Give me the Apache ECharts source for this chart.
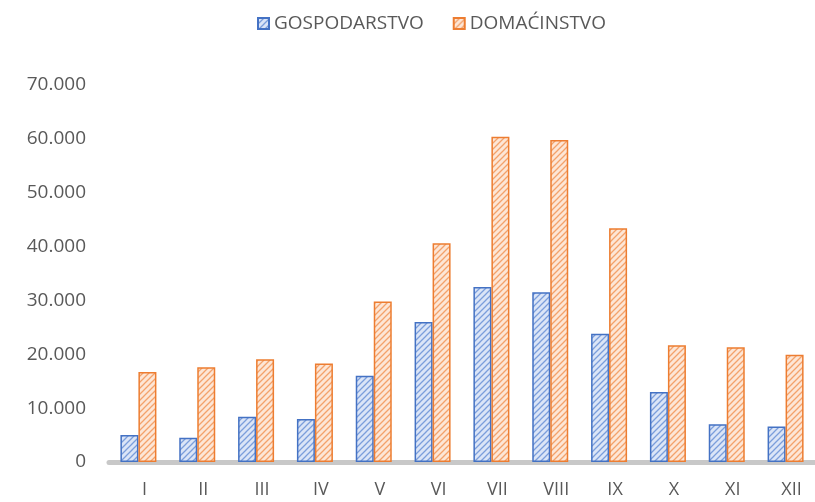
<!DOCTYPE html>
<html>
<head>
<meta charset="utf-8">
<script src="https://cdn.jsdelivr.net/npm/echarts@6/dist/echarts.min.js"></script>
<style>
  html, body { margin: 0; padding: 0; background: #fff; }
  #graph { width: 815px; height: 502px; }
</style>
</head>
<body>
<div id="graph"></div>
<script>
const months = ['I', 'II', 'III', 'IV', 'V', 'VI', 'VII', 'VIII', 'IX', 'X', 'XI', 'XII'];
const gospodarstvo = [5000, 4500, 8400, 8000, 16000, 26000, 32500, 31500, 23800, 13000, 7000, 6600];
const domacinstvo = [16700, 17600, 19100, 18300, 29800, 40600, 60400, 59800, 43400, 21700, 21300, 19900];
const yTicks = [0, 10000, 20000, 30000, 40000, 50000, 60000, 70000];

// hatched fill like the excel pattern
function hatch(bg, fg) {
  const c = document.createElement('canvas');
  c.width = 6; c.height = 6;
  const ctx = c.getContext('2d');
  ctx.fillStyle = bg;
  ctx.fillRect(0, 0, 6, 6);
  ctx.strokeStyle = fg;
  ctx.lineWidth = 1.3;
  ctx.beginPath();
  ctx.moveTo(-1, 7); ctx.lineTo(7, -1);
  ctx.moveTo(-4, 4); ctx.lineTo(4, -4);
  ctx.moveTo(2, 10); ctx.lineTo(10, 2);
  ctx.stroke();
  return { image: c, repeat: 'repeat' };
}

const myChart = echarts.init(document.getElementById('graph'));

const font = 'Open Sans';
const fmt = v => v === 0 ? '0' : (v / 1000).toFixed(0) + '.000';

let option = {
  animation: false,
  textStyle: { fontFamily: font },
  legend: {
    left: 252,
    top: 9,
    itemWidth: 11,
    itemHeight: 11,
    itemGap: 29,
    icon: 'rect',
    textStyle: { color: '#595959', fontSize: 19, fontFamily: font }
  },
  grid: { left: 109, right: -12, top: 85, bottom: 40 },
  xAxis: {
    type: 'category',
    data: months,
    axisLine: { lineStyle: { color: '#c8c8c8', width: 5 } },
    axisTick: { show: false },
    axisLabel: { color: '#595959', fontSize: 18, fontFamily: font, margin: 19, padding: [0, 0, 0, 12] }
  },
  yAxis: {
    type: 'value',
    min: 0,
    max: yTicks[yTicks.length - 1],
    interval: 10000,
    splitLine: { show: false },
    axisLine: { show: false },
    axisTick: { show: false },
    axisLabel: { color: '#595959', fontSize: 19, fontFamily: font, margin: 23, formatter: fmt }
  },
  series: [
    {
      name: 'GOSPODARSTVO',
      type: 'bar',
      data: gospodarstvo,
      barWidth: 18,
      barGap: '0%',
      itemStyle: {
        color: hatch('#dbe5f7', '#7b9edb'),
        borderColor: '#4472c4',
        borderWidth: 1.5
      }
    },
    {
      name: 'DOMAĆINSTVO',
      type: 'bar',
      data: domacinstvo,
      barWidth: 18,
      itemStyle: {
        color: hatch('#fde6d6', '#f3a26b'),
        borderColor: '#ed7d31',
        borderWidth: 1.5
      }
    }
  ]
};

myChart.setOption(option);
</script>
</body>
</html>
